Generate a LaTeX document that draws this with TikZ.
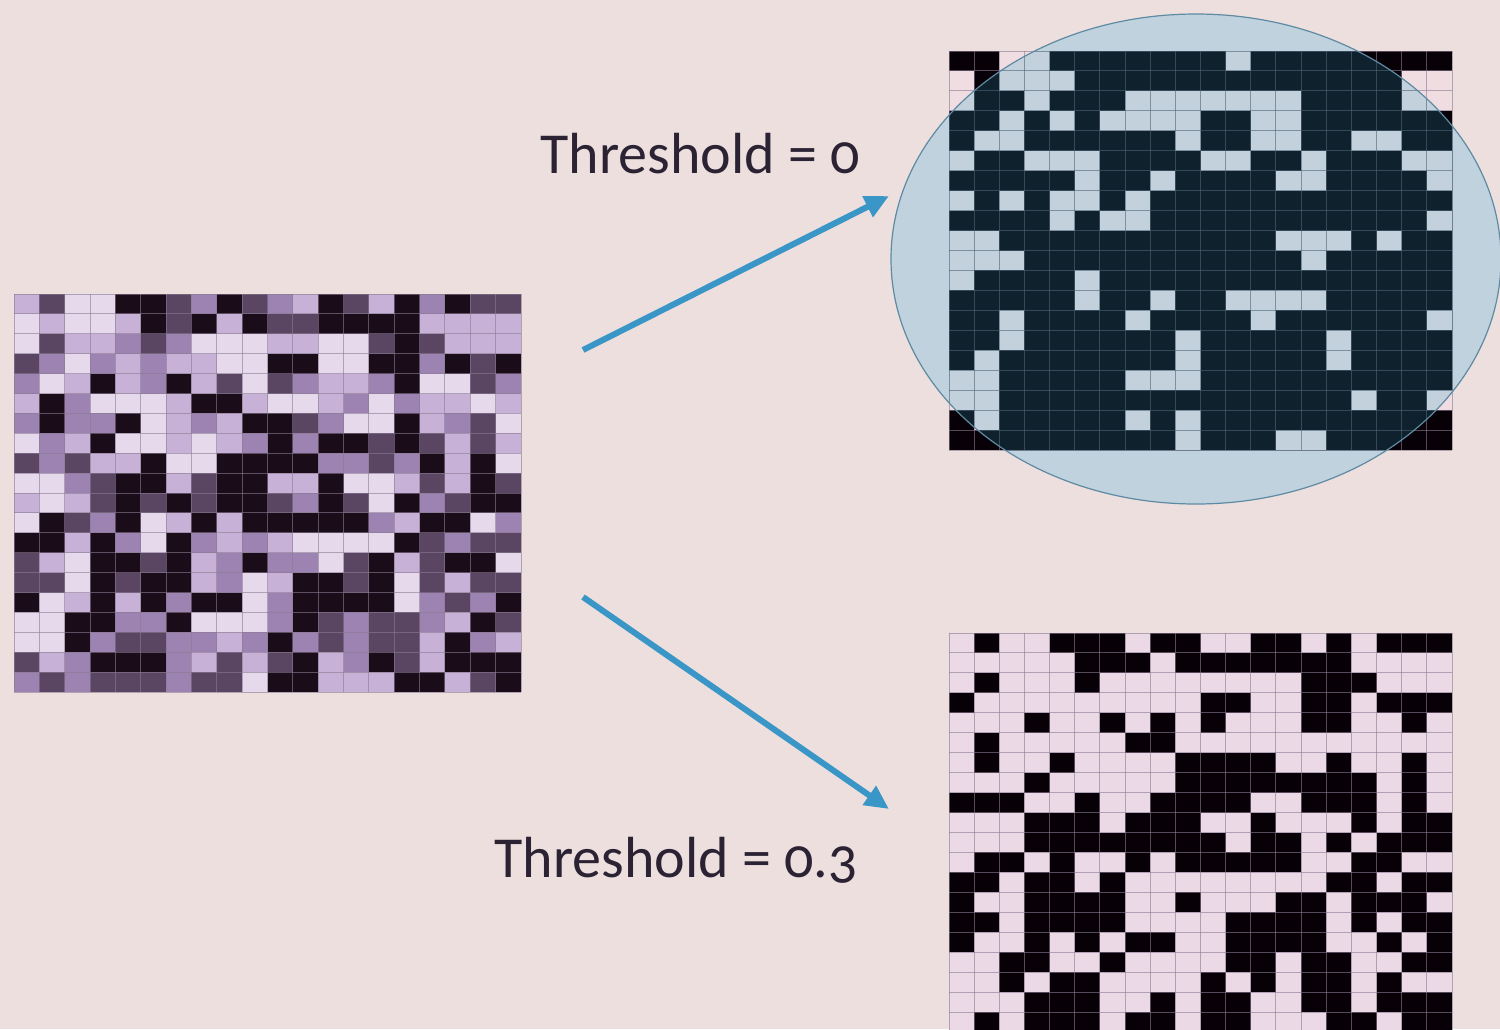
\documentclass[tikz,border=0pt]{standalone}
\usepackage{fontspec}
\setmainfont{Carlito}[Numbers=OldStyle]
\usetikzlibrary{arrows.meta,shapes.geometric}
\definecolor{bg}{HTML}{ECDFDD}
\definecolor{lv1}{HTML}{E6D9EC}
\definecolor{lv2}{HTML}{C7B1D7}
\definecolor{lv3}{HTML}{9D83B1}
\definecolor{lv4}{HTML}{5A4663}
\definecolor{lv5}{HTML}{1A0C18}
\definecolor{binlight}{HTML}{EBDAE6}
\definecolor{binlightpink}{HTML}{F0DDE2}
\definecolor{bindark}{HTML}{070107}
\definecolor{gridline}{HTML}{8A7A92}
\definecolor{ellfill}{HTML}{BFD2DD}
\definecolor{elllight}{HTML}{C3D1DD}
\definecolor{elldark}{HTML}{0F212C}
\definecolor{ellline}{HTML}{5F8AA3}
\definecolor{ellgrid}{HTML}{4E6676}
\definecolor{arrowblue}{HTML}{3A96C6}
\definecolor{txt}{HTML}{2B2333}
\newcommand\bingrid[6]{%
  \fill[#3] (#1,#2) rectangle ++(503,399);
  \foreach \rowlist [count=\rr from 0] in #6 {
    \foreach \cc in \rowlist {
      \fill[#4] ({#1+\cc*25.15},{#2+\rr*19.95}) rectangle ++(25.15,19.95);
    }
  }
  \foreach \ii in {0,...,20} {
    \draw[#5] ({#1+\ii*25.15},#2) -- ++(0,399);
    \draw[#5] (#1,{#2+\ii*19.95}) -- ++(503,0);
  }
}
\newcommand\toplights{{2,3,11},{0,2,3,4,18,19},{0,3,7,8,9,10,11,12,13,18,19},{2,4,6,7,8,9,12,13},{1,2,9,12,13,16,17},{0,3,4,5,10,11,14,18,19},{5,8,13,14,19},{0,2,4,5,7},{4,6,7,19},{0,1,13,14,15,17},{0,1,2,14},{0,5},{5,8,11,12,13,14},{2,7,12,19},{2,9,15},{1,9,15},{0,1,7,8,9},{0,1,16,19},{1,7,9},{9,13,14}}
\newcommand\botdarks{{1,4,5,6,8,9,12,13,15,17,18,19},{5,6,7,9,10,11,12,13,14,15},{1,5,14,15,16},{0,10,11,14,15,17,18,19},{3,6,8,10,14,15,18},{1,7,8},{1,4,9,10,11,12,15,18},{3,9,10,11,12,13,14,15,16,18},{0,1,2,5,8,9,10,11,14,15,16,18},{3,4,5,7,8,9,12,16,18,19},{3,4,5,6,7,8,9,10,12,13,15,17,18,19},{1,2,4,7,9,10,11,12,13,16,17},{0,1,3,4,6,15,16,18,19},{0,3,4,5,6,9,13,14,16,17,18},{0,1,3,4,5,6,11,12,13,14,16,18,19},{0,3,5,7,8,11,12,13,14,17,19},{2,3,6,11,12,14,15,18,19},{2,4,5,10,12,14,15,17},{3,4,5,8,10,11,14,15,17,18,19},{1,3,4,5,7,8,10,11,15,16,18,19}}
\newcommand\srclevels{{2,4,1,1,5,5,4,3,5,4,3,2,5,4,2,5,3,5,4,4},{1,2,1,1,2,5,4,5,2,5,4,4,5,5,5,5,2,2,2,2},{1,4,2,2,3,4,3,1,1,1,2,2,1,1,4,5,4,2,2,2},{4,3,1,3,2,3,2,2,1,1,5,5,1,1,5,5,3,5,4,5},{3,1,2,5,2,3,5,2,4,1,4,3,2,2,3,5,1,1,4,3},{2,5,3,1,1,1,2,5,5,2,1,1,2,3,1,3,2,2,1,2},{3,5,3,3,5,1,2,3,2,5,5,4,3,1,1,5,2,3,4,1},{1,3,2,5,1,1,2,1,2,3,5,3,5,5,4,5,4,2,4,2},{4,3,4,2,2,5,1,1,5,5,5,5,3,3,4,3,5,2,5,1},{1,1,3,4,5,5,2,4,5,5,2,2,5,1,1,2,4,2,5,4},{2,1,2,4,5,4,5,4,5,5,4,3,5,4,1,5,3,4,5,5},{1,5,4,3,5,1,2,5,2,5,5,5,5,5,3,2,5,5,1,3},{5,5,2,5,3,1,5,3,2,3,2,1,1,1,1,5,4,3,4,4},{4,2,1,5,5,4,5,2,3,5,3,3,1,4,5,2,4,5,5,1},{4,4,1,5,4,5,5,2,3,1,2,5,5,4,5,1,4,2,4,4},{5,1,2,5,2,5,3,5,5,1,3,5,5,5,5,1,3,4,3,5},{1,1,5,5,3,3,5,1,1,1,3,5,4,3,4,4,3,2,5,4},{1,1,5,3,4,4,3,3,2,3,5,3,4,3,4,4,2,5,3,2},{4,2,3,5,5,5,3,2,4,2,4,5,2,3,5,4,2,5,5,5},{3,4,3,4,4,4,3,4,4,1,5,5,2,2,2,5,5,2,4,5}}
\tikzset{
  arr/.style={line width=6pt, arrowblue, -{Triangle[length=24pt,width=22pt]}},
  lbl/.style={font=\fontsize{58}{66}\selectfont, text=txt, inner sep=0pt, anchor=base east},
  gl/.style={gridline, line width=1pt, opacity=0.6},
  egl/.style={ellgrid, line width=1pt, opacity=0.6},
  frame/.style={minimum width=503pt, minimum height=399pt, inner sep=0pt, anchor=north west},
}
\begin{document}
\begin{tikzpicture}[x=1pt,y=-1pt]
\useasboundingbox (0,0) rectangle (1500,1029);
\clip (0,0) rectangle (1500,1029);
\fill[bg] (0,0) rectangle (1500,1029);

% left grey-level grid
\foreach \rowlist [count=\rr from 0] in \srclevels {
  \foreach \vv [count=\cc from 0] in \rowlist {
    \fill[lv\vv] ({14+\cc*25.35},{294+\rr*19.9}) rectangle ++(25.35,19.9);
  }
}
\foreach \ii in {0,...,20} {
  \draw[gl] ({14+\ii*25.35},294) -- ++(0,398);
  \draw[gl] (14,{294+\ii*19.9}) -- ++(507,0);
}
\node[minimum width=507pt, minimum height=398pt, inner sep=0pt, anchor=north west] (src) at (14,294) {};

% top right: threshold 0, with highlighting ellipse
\fill[ellfill] (1196,259) ellipse [x radius=305, y radius=245];
\bingrid{949}{51}{bindark}{binlightpink}{gl}{\toplights}
\begin{scope}
  \clip (1196,259) ellipse [x radius=305, y radius=245];
  \bingrid{949}{51}{elldark}{elllight}{egl}{\toplights}
\end{scope}
\node[draw=ellline, line width=1.2pt, ellipse, minimum width=610pt, minimum height=490pt, inner sep=0pt] (hl) at (1196,259) {};
\node[frame] (t0) at (949,51) {};

% bottom right: threshold 0.3
\bingrid{949}{633}{binlight}{bindark}{gl}{\botdarks}
\node[frame] (t3) at (949,633) {};

% labels
\node[lbl] (l0) at (860,173) {Threshold = 0};
\node[lbl] (l3) at (858,877) {Threshold = 0.3};

% arrows
\coordinate (a1s) at (583,350);
\coordinate (a1e) at (889,196);
\coordinate (a2s) at (583,597);
\coordinate (a2e) at (889,809);
\draw[arr] (a1s) -- (a1e);
\draw[arr] (a2s) -- (a2e);
\end{tikzpicture}
\end{document}
